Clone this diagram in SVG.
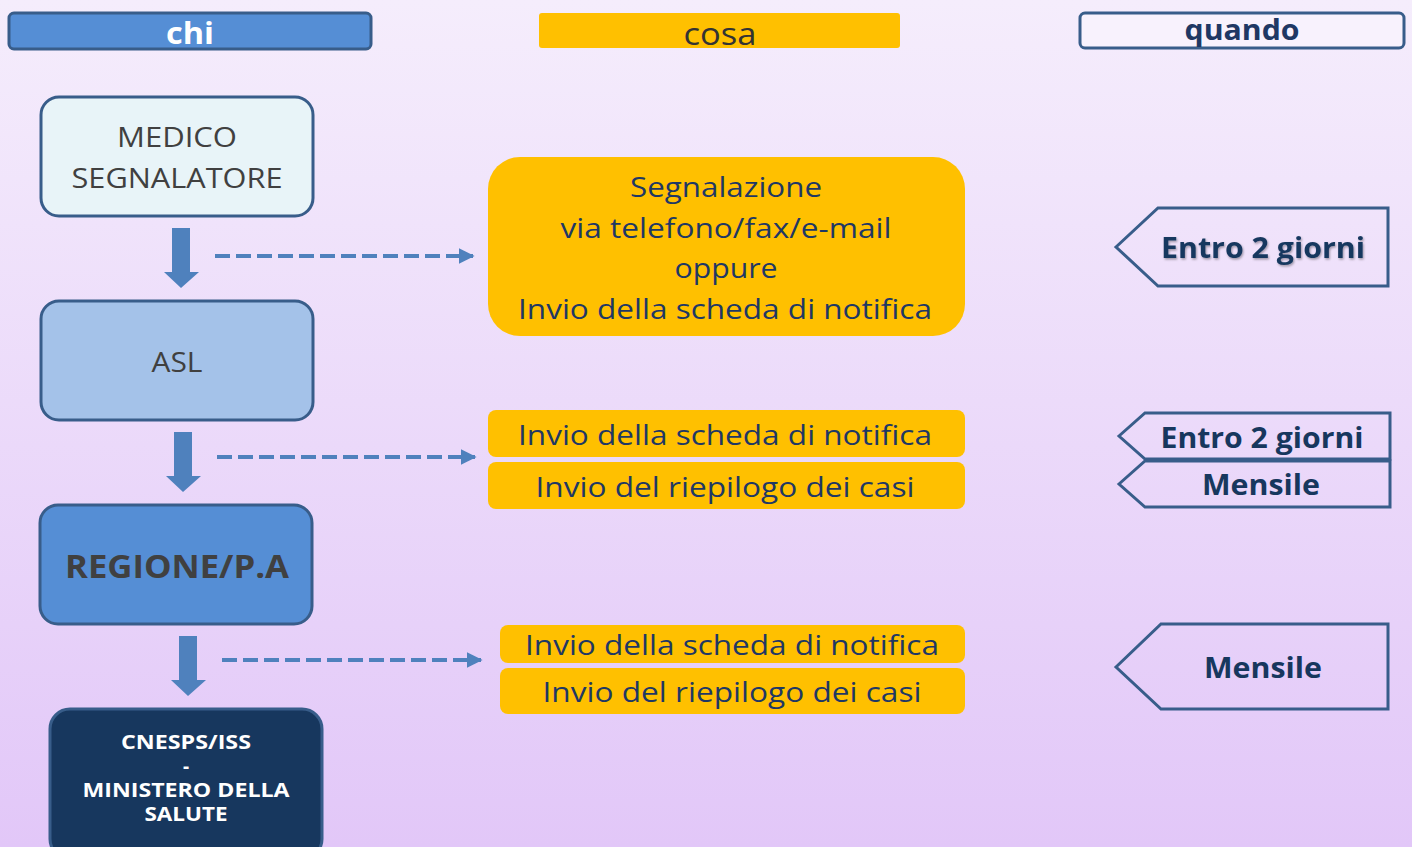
<svg xmlns="http://www.w3.org/2000/svg" width="1412" height="847" viewBox="0 0 1412 847">
<defs>
<linearGradient id="bg" x1="0" y1="0" x2="0" y2="1">
<stop offset="0" stop-color="#F5EDFC"/>
<stop offset="1" stop-color="#E2C7F8"/>
</linearGradient>
<marker id="ah" viewBox="0 0 10 10" refX="9" refY="5" markerWidth="4" markerHeight="4" orient="auto" markerUnits="strokeWidth">
<path d="M0,0 L10,5 L0,10 z" fill="#4F81BD"/>
</marker>
<filter id="sh" x="-10%" y="-30%" width="120%" height="160%">
<feDropShadow dx="1" dy="1.5" stdDeviation="1" flood-color="#000" flood-opacity="0.35"/>
</filter>
</defs>
<style>
text{font-family:"Open Sans","Noto Sans","Liberation Sans",sans-serif;text-anchor:middle}
.hdr{stroke:#385D8A;stroke-width:3}
.box{stroke:#385D8A;stroke-width:3}
.org{fill:#FFC000}
.ot{fill:#1F3864;font-size:28px}
.bt{fill:#404040;font-size:28px}
.tag{fill:none;stroke:#385D8A;stroke-width:3}
.tt{fill:#17375E;font-size:28px;font-weight:bold}
.ct{fill:#fff;font-size:19px;font-weight:bold}
.dash{stroke:#4F81BD;stroke-width:4;stroke-dasharray:15 6;fill:none}
.down{fill:#4F81BD}
</style>
<rect width="1412" height="847" fill="url(#bg)"/>

<g id="header-chi">
<rect class="hdr" x="9" y="13" width="362" height="36" rx="5" fill="#558ED5"/>
<text x="190" y="44" fill="#fff" font-size="31" font-weight="bold" textLength="48" lengthAdjust="spacingAndGlyphs">chi</text>
</g>
<g id="header-cosa">
<rect x="539" y="13" width="361" height="35" rx="3" fill="#FFC000"/>
<text x="720" y="45" fill="#333" font-size="31" textLength="73" lengthAdjust="spacingAndGlyphs">cosa</text>
</g>
<g id="header-quando">
<rect class="hdr" x="1080" y="13" width="324" height="35" rx="5" fill="#F8F2FD"/>
<text x="1242" y="40" fill="#1F3864" font-size="28" font-weight="bold" textLength="115" lengthAdjust="spacingAndGlyphs">quando</text>
</g>

<g id="medico">
<rect class="box" x="41" y="97" width="272" height="119" rx="18" fill="#E8F4F8"/>
<text class="bt" x="177" y="147" textLength="120" lengthAdjust="spacingAndGlyphs">MEDICO</text>
<text class="bt" x="177" y="188" textLength="211" lengthAdjust="spacingAndGlyphs">SEGNALATORE</text>
</g>
<g id="asl">
<rect class="box" x="41" y="301" width="272" height="119" rx="18" fill="#A4C2E9"/>
<text class="bt" x="177" y="372" textLength="51" lengthAdjust="spacingAndGlyphs">ASL</text>
</g>
<g id="regione">
<rect class="box" x="40" y="505" width="272" height="119" rx="18" fill="#558ED5"/>
<text x="177" y="578" fill="#404040" font-size="32" font-weight="bold" textLength="224" lengthAdjust="spacingAndGlyphs">REGIONE/P.A</text>
</g>
<g id="cnesps">
<rect class="box" x="50" y="709" width="272" height="150" rx="20" fill="#17375E"/>
<text class="ct" x="186" y="749" textLength="130" lengthAdjust="spacingAndGlyphs">CNESPS/ISS</text>
<text class="ct" x="186" y="773">-</text>
<text class="ct" x="186" y="797" textLength="207" lengthAdjust="spacingAndGlyphs">MINISTERO DELLA</text>
<text class="ct" x="186" y="821" textLength="83" lengthAdjust="spacingAndGlyphs">SALUTE</text>
</g>

<g id="connectors">
<path class="down" d="M172,228 H190 V272 H199 L181,288 L164,272 H172 Z"/>
<line class="dash" x1="215" y1="256" x2="473" y2="256" marker-end="url(#ah)"/>
<path class="down" d="M174,432 H192 V476 H201 L183,492 L166,476 H174 Z"/>
<line class="dash" x1="217" y1="457" x2="475" y2="457" marker-end="url(#ah)"/>
<path class="down" d="M179,636 H197 V680 H206 L188,696 L171,680 H179 Z"/>
<line class="dash" x1="222" y1="660" x2="481" y2="660" marker-end="url(#ah)"/>
</g>

<g id="cosa-1">
<rect class="org" x="488" y="157" width="477" height="179" rx="32"/>
<text class="ot" x="726" y="197" textLength="192" lengthAdjust="spacingAndGlyphs">Segnalazione</text>
<text class="ot" x="726" y="238" textLength="331" lengthAdjust="spacingAndGlyphs">via telefono/fax/e-mail</text>
<text class="ot" x="726" y="278" textLength="103" lengthAdjust="spacingAndGlyphs">oppure</text>
<text class="ot" x="725" y="319" textLength="414" lengthAdjust="spacingAndGlyphs">Invio della scheda di notifica</text>
</g>
<g id="cosa-2">
<rect class="org" x="488" y="410" width="477" height="47" rx="8"/>
<text class="ot" x="725" y="445" textLength="414" lengthAdjust="spacingAndGlyphs">Invio della scheda di notifica</text>
</g>
<g id="cosa-3">
<rect class="org" x="488" y="462" width="477" height="47" rx="8"/>
<text class="ot" x="725" y="497" textLength="379" lengthAdjust="spacingAndGlyphs">Invio del riepilogo dei casi</text>
</g>
<g id="cosa-4">
<rect class="org" x="500" y="625" width="465" height="38" rx="8"/>
<text class="ot" x="732" y="655" textLength="414" lengthAdjust="spacingAndGlyphs">Invio della scheda di notifica</text>
</g>
<g id="cosa-5">
<rect class="org" x="500" y="668" width="465" height="46" rx="8"/>
<text class="ot" x="732" y="702" textLength="379" lengthAdjust="spacingAndGlyphs">Invio del riepilogo dei casi</text>
</g>

<g id="quando-1">
<polygon class="tag" points="1116,247 1158,208 1388,208 1388,286 1158,286"/>
<text class="tt" x="1263" y="258" filter="url(#sh)" textLength="204" lengthAdjust="spacingAndGlyphs">Entro 2 giorni</text>
</g>
<g id="quando-2">
<polygon class="tag" points="1119,436 1145,413 1390,413 1390,459 1145,459"/>
<text class="tt" x="1262" y="448" textLength="203" lengthAdjust="spacingAndGlyphs">Entro 2 giorni</text>
</g>
<g id="quando-3">
<polygon class="tag" points="1119,484 1145,461 1390,461 1390,507 1145,507"/>
<text class="tt" x="1261" y="495" textLength="118" lengthAdjust="spacingAndGlyphs">Mensile</text>
</g>
<g id="quando-4">
<polygon class="tag" points="1116,667 1161,624 1388,624 1388,709 1161,709"/>
<text class="tt" x="1263" y="678" textLength="118" lengthAdjust="spacingAndGlyphs">Mensile</text>
</g>
</svg>
